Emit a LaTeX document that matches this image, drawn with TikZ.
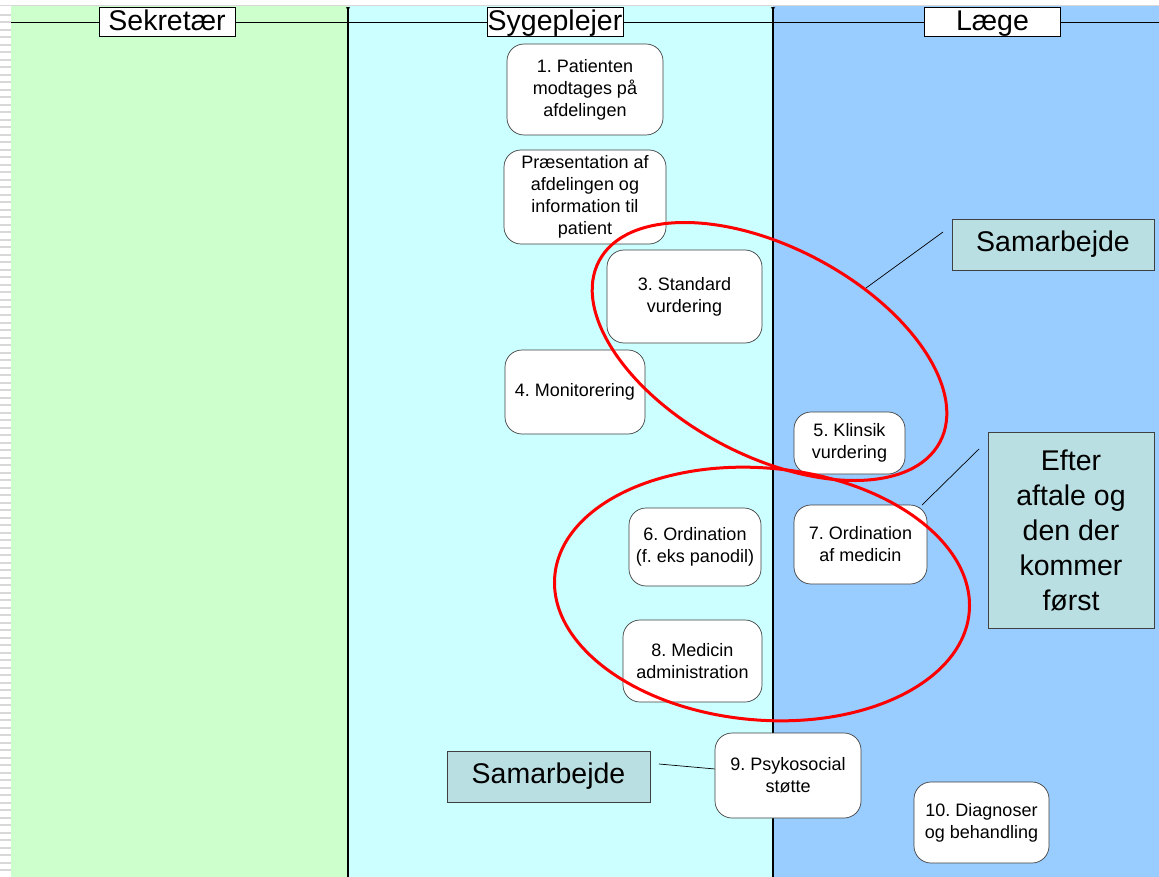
\documentclass[tikz,border=0pt]{standalone}
\usepackage{fontspec}
\setmainfont{Liberation Sans}
\definecolor{secgreen}{RGB}{204,255,204}
\definecolor{nursecyan}{RGB}{204,255,255}
\definecolor{docblue}{RGB}{153,204,255}
\definecolor{notefill}{RGB}{185,223,227}
\definecolor{edgegray}{RGB}{216,216,216}
\begin{document}
\frenchspacing
\begin{tikzpicture}[x=1pt,y=-1pt,
  task/.style={draw=black!75, fill=white, line width=0.7pt, rounded corners=17pt,
    align=center, inner sep=0pt, font=\fontsize{18}{22}\selectfont},
  lanehead/.style={draw=black, fill=white, line width=0.8pt, inner sep=0pt,
    text height=23pt, text depth=4pt,
    minimum width=136pt, minimum height=29pt, font=\fontsize{28.5}{30}\selectfont},
  note/.style={draw=black!75, fill=notefill, line width=0.8pt, inner sep=0pt,
    align=center, font=\fontsize{28.5}{35}\selectfont},
  ring/.style={draw=red, line width=3pt},
  leader/.style={draw=black, line width=0.7pt},
  divider/.style={draw=black, line width=1.1pt}]

\useasboundingbox (0,0) rectangle (1159,877);

% page edge: white strip on top, striped margin on the left
\fill[white] (0,0) rectangle (1159,877);
\fill[edgegray] (0,5) rectangle (1159,6.5);
\foreach \k in {0,...,115}
  \fill[edgegray] (0,{14+7.5*\k}) rectangle (11,{16+7.5*\k});

% swimlanes
\fill[secgreen]  (11,6.5)  rectangle (348,877);
\fill[nursecyan] (348,6.5) rectangle (773,877);
\fill[docblue]   (773,6.5) rectangle (1159,877);

% lane dividers and header rule
\draw[line width=0.9pt] (11,22) -- (1159,22);
\coordinate (d1t) at (348,7);
\coordinate (d1b) at (348,877);
\coordinate (d2t) at (773,7);
\coordinate (d2b) at (773,877);
\draw[divider] (d1t) -- (d1b);
\draw[divider] (d2t) -- (d2b);
\draw[line width=0.5pt] (346,7) -- (348,10) -- (350,7);
\draw[line width=0.5pt] (771,7) -- (773,10) -- (775,7);

% lane titles
\node[lanehead] (hsek) at (167,21.5) {Sekretær};
\node[lanehead] (hsyg) at (555,21.5) {Sygeplejer};
\node[lanehead] (hlae) at (992.5,21.5) {Læge};

% tasks
\node[task, minimum width=156pt, minimum height=91pt] (n1) at (585,89.5)
  {1. Patienten\\modtages på\\afdelingen};
\node[task, minimum width=162pt, minimum height=94pt] (n2) at (585,197)
  {Præsentation af\\afdelingen og\\information til\\patient};
\node[task, minimum width=155pt, minimum height=93pt] (n3) at (684.5,296.5)
  {3. Standard\\vurdering};
\node[task, minimum width=140pt, minimum height=84pt] (n4) at (575,392)
  {4. Monitorering};
\node[task, minimum width=111pt, minimum height=62pt] (n5) at (849.5,443)
  {5. Klinsik\\vurdering};
\node[task, minimum width=132pt, minimum height=78pt] (n6) at (695,547)
  {6. Ordination\\(f. eks panodil)};
\node[task, minimum width=133pt, minimum height=79pt] (n7) at (860.5,544.5)
  {7. Ordination\\af medicin};
\node[task, minimum width=139pt, minimum height=82pt] (n8) at (692.5,661)
  {8. Medicin\\administration};
\node[task, minimum width=146pt, minimum height=85pt] (n9) at (788,775.5)
  {9. Psykosocial\\støtte};
\node[task, minimum width=135pt, minimum height=81pt] (n10) at (981.5,822.5)
  {10. Diagnoser\\og behandling};

% red rings around the shared steps
\draw[ring, rotate around={-28:(769.5,351.5)}] (769.5,351.5)
  ellipse [x radius=193pt, y radius=104pt];
\draw[ring, rotate around={-5:(762,594)}] (762,594)
  ellipse [x radius=208pt, y radius=126pt];

% notes and their leader lines
\node[note, minimum width=202pt, minimum height=51pt] (samtop) at (1053,244.5)
  {Samarbejde};
\node[note, minimum width=166pt, minimum height=196pt] (efter) at (1071,530)
  {Efter\\aftale og\\den der\\kommer\\først};
\node[note, minimum width=203pt, minimum height=51pt] (sambot) at (548.5,776.5)
  {Samarbejde};

\coordinate (l1a) at (943,232);
\coordinate (l1b) at (866,288);
\draw[leader] (l1a) -- (l1b);
\coordinate (l2a) at (979,449);
\coordinate (l2b) at (922,505);
\draw[leader] (l2a) -- (l2b);
\coordinate (l3a) at (659,764);
\draw[leader] (l3a) -- (n9);
\end{tikzpicture}
\end{document}
